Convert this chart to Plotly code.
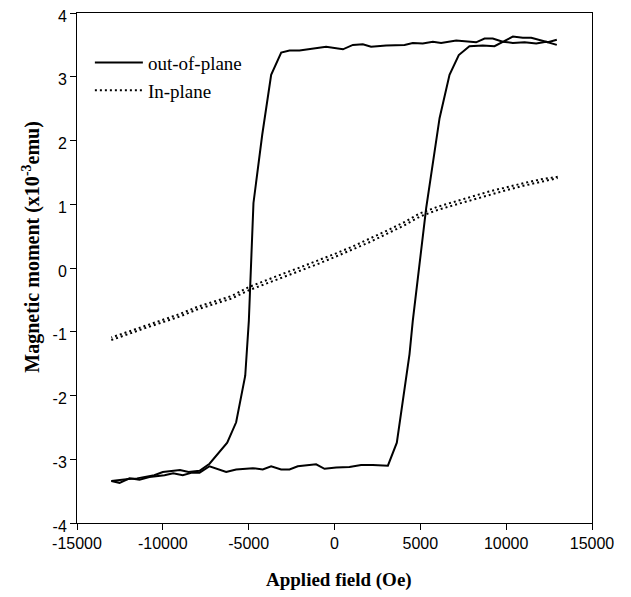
import plotly.graph_objects as go

# Out-of-plane loop: descending branch (from +H to -H)
oop_down_x = [12950, 12330, 11750, 11070, 10390, 9800, 9220, 8740, 8250, 7670, 7090, 6210, 5730, 5140,
              4560, 4080, 3010, 2130, 1650, 1070, 490, -490, -1260, -2040, -2620, -3105, -3690, -4210,
              -4720, -4990, -5200, -5730, -6250, -7280, -7860, -8500, -9000, -9500, -10000, -10500,
              -11000, -11500, -12000, -12500, -13000]
oop_down_y = [3.50, 3.55, 3.52, 3.54, 3.53, 3.55, 3.60, 3.60, 3.54, 3.56, 3.57, 3.53, 3.55, 3.52,
              3.53, 3.50, 3.49, 3.47, 3.51, 3.50, 3.43, 3.47, 3.44, 3.41, 3.41, 3.38, 3.03, 2.09,
              1.02, -0.83, -1.69, -2.42, -2.74, -3.07, -3.18, -3.20, -3.17, -3.19, -3.20, -3.25,
              -3.28, -3.30, -3.31, -3.33, -3.34]

# Out-of-plane loop: ascending branch (from -H to +H)
oop_up_x = [-13000, -12520, -11940, -11360, -10780, -10300, -9900, -9400, -8840, -8300, -7860, -7280,
            -6310, -5730, -4760, -4180, -3690, -3110, -2620, -2140, -1650, -1070, -580, 100, 870,
            1550, 2230, 3110, 3630, 4370, 4560, 5340, 6120, 6700, 7240, 7860, 8640, 9320, 10390,
            10970, 11460, 11940, 12430, 12950]
oop_up_y = [-3.34, -3.37, -3.30, -3.32, -3.28, -3.27, -3.25, -3.22, -3.25, -3.21, -3.21, -3.11,
            -3.20, -3.16, -3.14, -3.16, -3.11, -3.16, -3.16, -3.11, -3.10, -3.08, -3.15, -3.13, -3.12,
            -3.09, -3.09, -3.10, -2.74, -1.35, -0.83, 0.94, 2.35, 3.03, 3.34, 3.48, 3.49, 3.48, 3.63,
            3.61, 3.61, 3.57, 3.54, 3.58]

# In-plane loop (two nearly overlapping branches)
ip_down_x = [13000, 12000, 11000, 10000, 9000, 8000, 7000, 6000, 5000, 4000, 3000, 2000, 1000, 0,
             -1000, -2000, -3000, -4000, -5000, -6000, -7000, -8000, -9000, -10000, -11000, -12000, -13000]
ip_down_y = [1.43, 1.39, 1.33, 1.27, 1.20, 1.12, 1.04, 0.96, 0.86, 0.71, 0.58, 0.45, 0.33, 0.22,
             0.11, 0.01, -0.09, -0.20, -0.30, -0.44, -0.53, -0.61, -0.72, -0.81, -0.90, -0.99, -1.09]
ip_up_x = [-13000, -12000, -11000, -10000, -9000, -8000, -7000, -6000, -5000, -4000, -3000, -2000,
           -1000, 0, 1000, 2000, 3000, 4000, 5000, 6000, 7000, 8000, 9000, 10000, 11000, 12000, 13000]
ip_up_y = [-1.13, -1.03, -0.94, -0.85, -0.76, -0.65, -0.57, -0.48, -0.35, -0.25, -0.14, -0.04,
           0.06, 0.17, 0.28, 0.40, 0.53, 0.66, 0.81, 0.91, 0.99, 1.07, 1.15, 1.22, 1.29, 1.35, 1.41]

x_ticks = [-15000, -10000, -5000, 0, 5000, 10000, 15000]
y_ticks = [-4, -3, -2, -1, 0, 1, 2, 3, 4]

x_title = "Applied field (Oe)"
y_title = "Magnetic moment (x10<sup>-3</sup>emu)"

dot_style = "2px,3px"

fig = go.Figure()
fig.add_trace(go.Scatter(x=oop_down_x, y=oop_down_y, mode="lines", name="out-of-plane",
                         line=dict(color="black", width=2), legendgroup="oop"))
fig.add_trace(go.Scatter(x=oop_up_x, y=oop_up_y, mode="lines", name="out-of-plane",
                         line=dict(color="black", width=2), showlegend=False, legendgroup="oop"))
fig.add_trace(go.Scatter(x=ip_down_x, y=ip_down_y, mode="lines", name="In-plane",
                         line=dict(color="black", width=2, dash=dot_style), legendgroup="ip"))
fig.add_trace(go.Scatter(x=ip_up_x, y=ip_up_y, mode="lines", name="In-plane",
                         line=dict(color="black", width=2, dash=dot_style), showlegend=False, legendgroup="ip"))

# The page body adds an 8px margin, so the figure is 8px smaller and margins are reduced by 8px.
fig.update_layout(
    width=623, height=589,
    margin=dict(l=69, r=39, t=5, b=74, autoexpand=False),
    paper_bgcolor="white", plot_bgcolor="white",
    showlegend=True,
    legend=dict(x=0.025, y=0.94, xanchor="left", yanchor="top", bgcolor="rgba(0,0,0,0)",
                font=dict(family="Liberation Serif", size=19, color="black"),
                tracegroupgap=0, itemwidth=48),
    xaxis=dict(range=[-15000, 15000], tickvals=x_ticks, ticktext=[str(v) for v in x_ticks],
               automargin=False, ticklabeloverflow="allow",
               showgrid=False, zeroline=False, showline=True, linecolor="black", linewidth=1,
               mirror=True, ticks="outside", ticklen=6, tickcolor="black",
               tickfont=dict(family="Liberation Sans", size=16, color="black")),
    yaxis=dict(range=[-4, 4], tickvals=y_ticks, ticktext=[str(v) for v in y_ticks],
               automargin=False, ticklabeloverflow="allow", ticklabelshift=3,
               showgrid=False, zeroline=False, showline=True, linecolor="black", linewidth=1,
               mirror=True, ticks="outside", ticklen=6, tickcolor="black",
               tickfont=dict(family="Liberation Sans", size=16, color="black")),
    annotations=[
        dict(text=x_title, xref="paper", yref="paper", x=0.509, y=-0.111,
             xanchor="center", yanchor="middle", showarrow=False,
             font=dict(family="Liberation Serif", size=19, color="black", weight="bold")),
        dict(text=y_title, xref="paper", yref="paper", x=-0.089, y=0.542, textangle=-90,
             xanchor="center", yanchor="middle", showarrow=False,
             font=dict(family="Liberation Serif", size=20, color="black", weight="bold")),
    ],
)

fig.write_html("out.html")
